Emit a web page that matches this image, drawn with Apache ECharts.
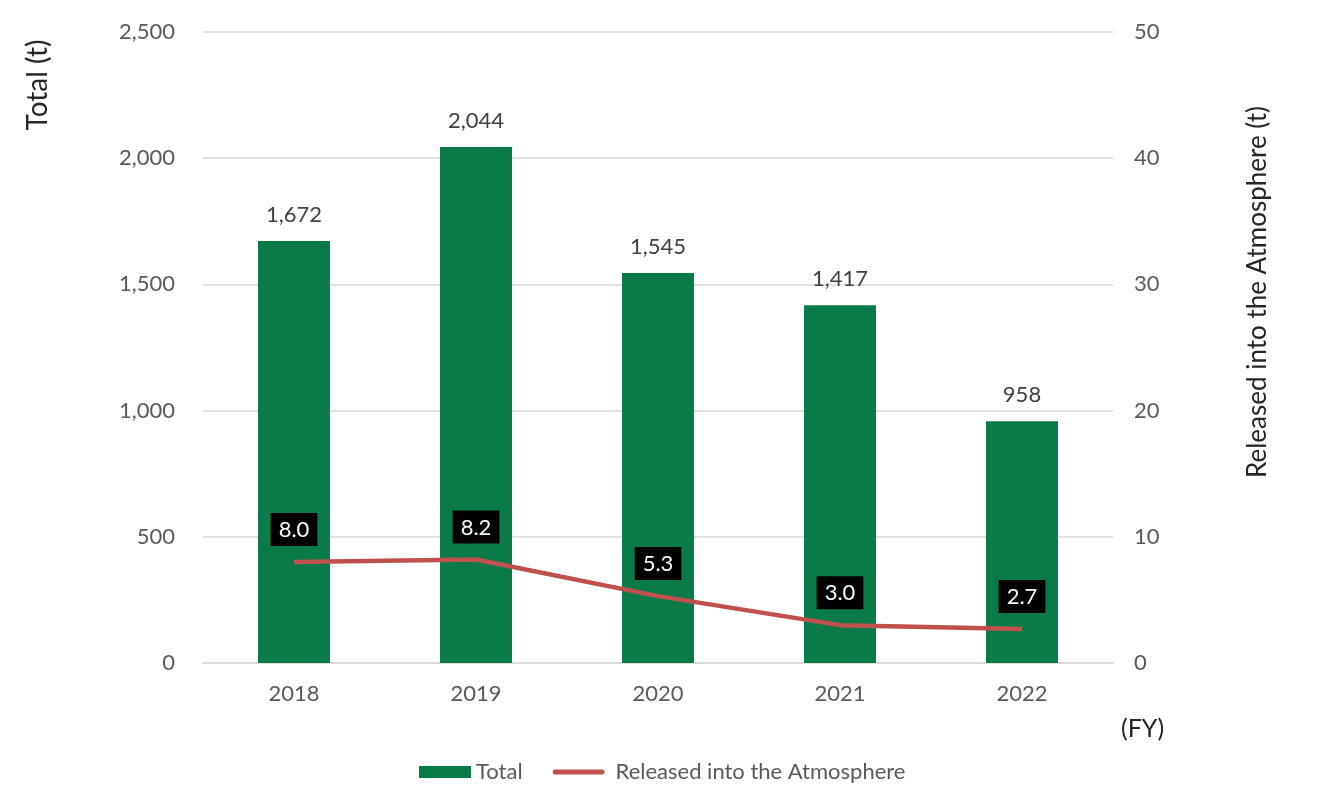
<!DOCTYPE html>
<html><head><meta charset="utf-8">
<script src="https://cdn.jsdelivr.net/npm/echarts@6/dist/echarts.min.js"></script>
<style>html,body{margin:0;padding:0;background:#fff}#c{width:1330px;height:800px}</style>
</head><body><div id="c"></div>
<script>
const categories = ['2018','2019','2020','2021','2022'];
const totalValues = [1672, 2044, 1545, 1417, 958];
const releasedValues = [8.0, 8.2, 5.3, 3.0, 2.7];
const leftTicks = [0, 500, 1000, 1500, 2000, 2500];
const rightTicks = [0, 10, 20, 30, 40, 50];

const FONT = 'Lato';
const chart = echarts.init(document.getElementById('c'));
chart.setOption({
  animation: false,
  textStyle: {fontFamily: FONT},
  grid: {left: 203, right: 217, top: 32, bottom: 137},
  legend: {
    top: 756, left: 414, itemGap: 30, itemWidth: 52, itemHeight: 12,
    textStyle: {fontSize: 22, color: '#595959', fontFamily: FONT},
    data: [
      {name: 'Total', icon: 'rect', itemStyle: {color: '#0A7A48'}},
      {name: 'Released into the Atmosphere', icon: 'path://M2,0 L50,0 Q52,0 52,2.5 Q52,5 50,5 L2,5 Q0,5 0,2.5 Q0,0 2,0 Z',
       itemStyle: {color: '#C0504D'}, textStyle: {padding: [0,0,0,6]}}
    ]
  },
  xAxis: {
    type: 'category', data: categories,
    axisTick: {show: false},
    axisLine: {lineStyle: {color: '#d9d9d9', width: 1.5}},
    axisLabel: {fontSize: 22, color: '#595959', margin: 20}
  },
  yAxis: [
    {type: 'value', min: leftTicks[0], max: leftTicks[leftTicks.length-1], interval: 500,
     axisLabel: {fontSize: 22, color: '#595959', margin: 28,
       formatter: v => v.toLocaleString('en-US')},
     splitLine: {lineStyle: {color: '#d9d9d9', width: 1.5}},
     axisLine: {show: false}, axisTick: {show: false}},
    {type: 'value', min: rightTicks[0], max: rightTicks[rightTicks.length-1], interval: 10,
     axisLabel: {fontSize: 22, color: '#595959', margin: 21},
     splitLine: {show: false}, axisLine: {show: false}, axisTick: {show: false}}
  ],
  graphic: [
    {type: 'text', x: 38, y: 85, rotation: Math.PI/2,
     style: {text: 'Total (t)', fontSize: 28, fill: '#262626', fontFamily: FONT, align: 'center', verticalAlign: 'middle'}},
    {type: 'text', x: 1121, y: 716,
     style: {text: '(FY)', fontSize: 25, fill: '#262626', fontFamily: FONT}},
    {type: 'text', x: 1258, y: 292, rotation: Math.PI/2,
     style: {text: 'Released into the Atmosphere (t)', fontSize: 26, fill: '#262626', fontFamily: FONT, align: 'center', verticalAlign: 'middle'}}
  ],
  series: [
    {name: 'Total', type: 'bar', data: totalValues, barWidth: 72, yAxisIndex: 0,
     itemStyle: {color: '#0A7A48'},
     label: {show: true, position: 'top', distance: 15, fontSize: 22, color: '#404040',
       formatter: p => p.value.toLocaleString('en-US')}},
    {name: 'Released into the Atmosphere', type: 'line', data: releasedValues, yAxisIndex: 1,
     symbol: 'circle', symbolSize: 0, showSymbol: true,
     lineStyle: {color: '#C0504D', width: 4.5}, itemStyle: {color: '#C0504D'},
     label: {show: true, position: 'top', distance: 16, fontSize: 22, color: '#fff',
       backgroundColor: '#000', padding: [6, 8, 5, 8],
       formatter: p => p.value.toFixed(1)}}
  ]
});
</script></body></html>
